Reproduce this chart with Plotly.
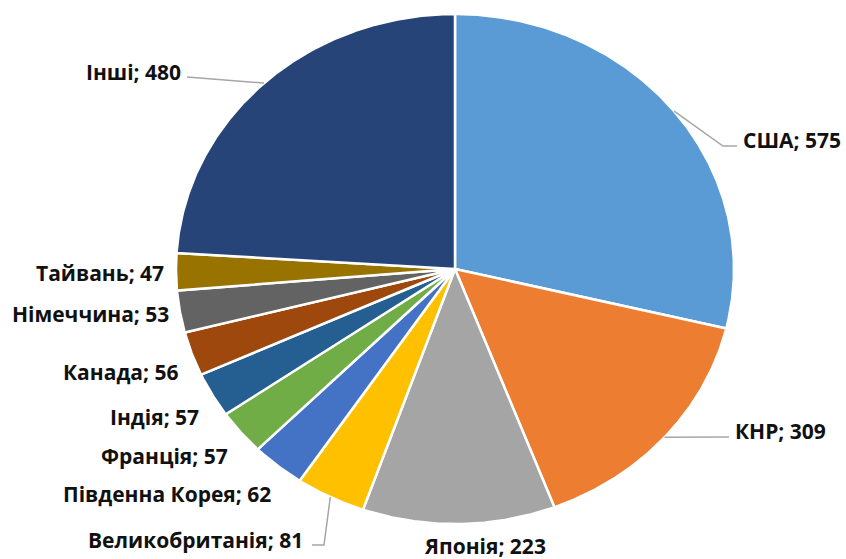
import numpy as np
import plotly.graph_objects as go

# Data: country shares, clockwise from 12 o'clock
countries = ["США", "КНР", "Японія", "Великобританія", "Південна Корея",
             "Франція", "Індія", "Канада", "Німеччина", "Тайвань", "Інші"]
values = [575, 309, 223, 81, 62, 57, 57, 56, 53, 47, 480]
colors = ["#5B9BD5", "#ED7D31", "#A5A5A5", "#FFC000", "#4472C4",
          "#70AD47", "#255E91", "#9E480E", "#636363", "#997300", "#264478"]

W, H = 846, 559
CX, CY = 455, 269          # pie centre (pixels)
RX, RY = 279, 255          # pie radii (pixels)

# label anchor points (x, y, xanchor)
label_pos = {
    "США": (741, 140, "left"),
    "КНР": (733, 431, "left"),
    "Японія": (485, 546, "center"),
    "Великобританія": (305, 540, "right"),
    "Південна Корея": (273, 494, "right"),
    "Франція": (230, 456, "right"),
    "Індія": (201, 417, "right"),
    "Канада": (180, 372, "right"),
    "Німеччина": (171, 314, "right"),
    "Тайвань": (166, 273, "right"),
    "Інші": (183, 72, "right"),
}
# leader line bends, listed from the label end towards the slice
leaders = {
    "США": [(737, 146), (723, 146)],
    "КНР": [(729, 437)],
    "Великобританія": [(312, 545), (324, 545)],
    "Інші": [(187, 77)],
}


def ell(theta):
    return CX + RX * np.sin(theta), CY - RY * np.cos(theta)


fig = go.Figure()
total = sum(values)
start = 0.0
mids = {}
for name, v, c in zip(countries, values, colors):
    a0 = start / total * 2 * np.pi
    a1 = (start + v) / total * 2 * np.pi
    t = np.linspace(a0, a1, max(8, int(v / 2)))
    ex, ey = ell(t)
    xs = np.concatenate([[CX], ex, [CX]])
    ys = np.concatenate([[CY], ey, [CY]])
    fig.add_trace(go.Scatter(x=xs, y=ys, mode="lines", fill="toself",
                             fillcolor=c, line=dict(color="white", width=2.5),
                             hoverinfo="skip", showlegend=False))
    mids[name] = (a0 + a1) / 2
    start += v

# leader lines
for name, pts in leaders.items():
    sx, sy = ell(mids[name])
    px = [sx] + [p[0] for p in reversed(pts)]
    py = [sy] + [p[1] for p in reversed(pts)]
    fig.add_trace(go.Scatter(x=px, y=py, mode="lines",
                             line=dict(color="#A6A6A6", width=1.5),
                             hoverinfo="skip", showlegend=False))

for name, v in zip(countries, values):
    x, y, anc = label_pos[name]
    fig.add_annotation(x=x, y=y, text=f"<b>{name}; {v}</b>", showarrow=False,
                       xanchor=anc, yanchor="middle",
                       font=dict(family="Open Sans", size=21, color="#111111"))

fig.update_layout(
    width=W, height=H, margin=dict(l=0, r=0, t=0, b=0),
    paper_bgcolor="white", plot_bgcolor="white",
    xaxis=dict(range=[0, W], visible=False, fixedrange=True),
    yaxis=dict(range=[H, 0], visible=False, fixedrange=True),
)
fig.write_html("out.html")
